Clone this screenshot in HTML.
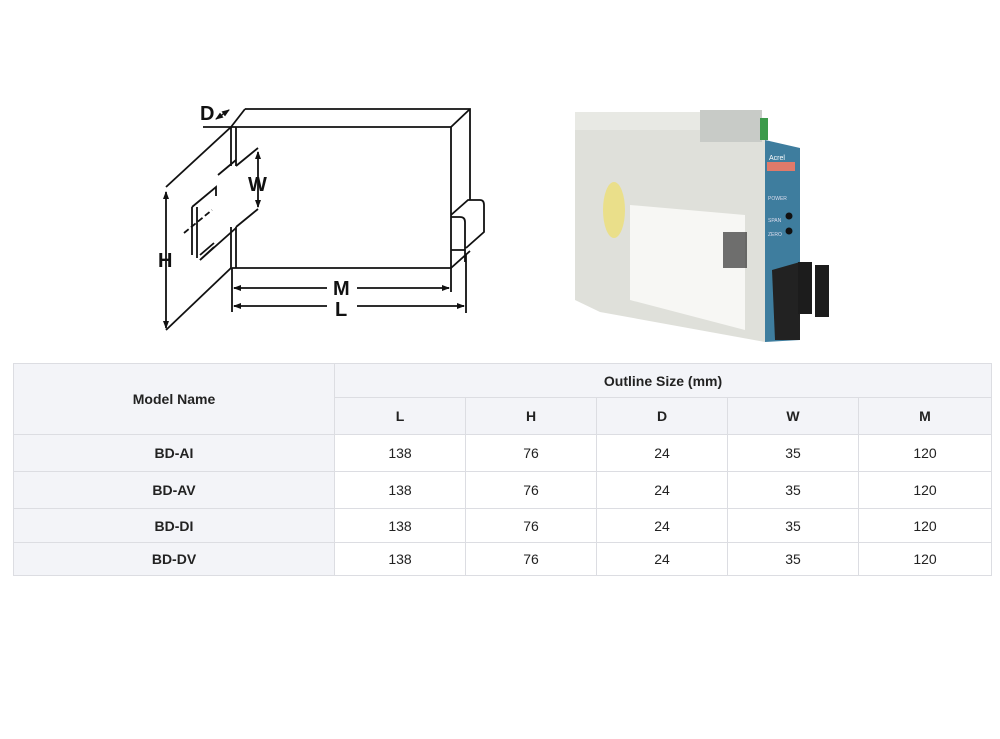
<!DOCTYPE html>
<html><head><meta charset="utf-8"><style>
html,body{margin:0;padding:0;background:#fff;width:1000px;height:739px;overflow:hidden;font-family:"Liberation Sans",Arial,sans-serif;}
svg{position:absolute;left:0;top:0}
table{position:absolute;left:13px;top:363px;border-collapse:collapse;width:978px;font-size:14px;color:#222;table-layout:fixed}
td{border:1px solid #dcdde2;text-align:center;padding:0}
.g{background:#f3f4f8;font-weight:bold}
</style></head><body>
<svg width="1000" height="360" viewBox="0 0 1000 360">
<defs><marker id="a" markerWidth="8" markerHeight="8" refX="7" refY="4" orient="auto-start-reverse" markerUnits="userSpaceOnUse"><path d="M0,1 L8,4 L0,7 z" fill="#111"/></marker></defs>
<g stroke="#111" stroke-width="1.8" fill="none">
<path d="M203,127 H451 V268 H232"/>
<path d="M245,109 H470 V200"/>
<path d="M451,127 L470,109"/>
<path d="M231,127 L245,109"/>
<path d="M231,127 V166 M236,127 V166 M231,227 V268 M236,227 V268"/>
<path d="M231,127 L166,187"/>
<path d="M231,268 L166,330"/>
<path d="M236,166 L258,148 M236,227 L258,209"/>
<path d="M218,175 L236,160 M200,260 L236,228"/>
<path d="M192,207 V255 M197,207 V258 M192,207 L216,187 V196"/>
<path d="M184,233 L212,210" stroke-dasharray="6,3"/>
<path d="M200,255 L214,243 M200,260 L214,247"/>
<path d="M451,215 L468,200 H480 Q484,200 484,205 V232 L466,248 M451,217 H460 Q465,217 465,222 V262 M451,250 H465 M451,268 L470,251"/>
<path d="M166,192 V328" marker-start="url(#a)" marker-end="url(#a)"/>
<path d="M258,152 V207" marker-start="url(#a)" marker-end="url(#a)"/>
<path d="M216,119 L229,110" marker-start="url(#a)" marker-end="url(#a)" stroke-width="1.4"/>
<path d="M232,268 V312 M451,268 V292 M466,255 V313"/>
<path d="M234,288 H327 M357,288 H449" />
<path d="M234,288 H240" marker-start="url(#a)"/><path d="M443,288 H449" marker-end="url(#a)"/>
<path d="M234,306 H327 M357,306 H464"/>
<path d="M234,306 H240" marker-start="url(#a)"/><path d="M458,306 H464" marker-end="url(#a)"/>
</g>
<g font-family="Liberation Sans" font-weight="bold" font-size="20" fill="#111">
<text x="200" y="120">D</text><text x="248" y="191">W</text><text x="158" y="267">H</text>
<text x="333" y="295">M</text><text x="335" y="316">L</text>
</g>
<polygon points="575,112 700,112 765,118 765,342 600,312 575,300" fill="#dfe0da"/>
<polygon points="575,112 700,112 700,130 575,130" fill="#e8e9e4"/>
<rect x="700" y="110" width="62" height="32" fill="#c8cbc7"/>
<rect x="760" y="118" width="8" height="22" fill="#3c9a4a"/>
<polygon points="765,140 800,148 800,340 765,342" fill="#3e7d9e"/>
<rect x="767" y="162" width="28" height="9" fill="#e07a6a"/>
<text x="769" y="160" font-size="7" fill="#fff" font-family="Liberation Sans">Acrel</text>
<text x="768" y="200" font-size="5" fill="#dde" font-family="Liberation Sans">POWER</text>
<text x="768" y="222" font-size="5" fill="#dde" font-family="Liberation Sans">SPAN</text>
<text x="768" y="236" font-size="5" fill="#dde" font-family="Liberation Sans">ZERO</text>
<circle cx="789" cy="216" r="3.5" fill="#111"/><circle cx="789" cy="231" r="3.5" fill="#111"/>
<polygon points="630,205 745,215 745,330 630,300" fill="#f7f7f4"/>
<rect x="723" y="232" width="24" height="36" fill="#333" opacity=".7"/>
<ellipse cx="614" cy="210" rx="11" ry="28" fill="#eadf8a"/>
<polygon points="772,270 800,262 800,340 775,340" fill="#222"/>
<rect x="798" y="262" width="14" height="52" fill="#1c1c1c"/>
<rect x="815" y="265" width="14" height="52" fill="#1c1c1c"/>
</svg>
<table>
<colgroup><col style="width:321px"><col style="width:131px"><col style="width:131px"><col style="width:131px"><col style="width:131px"><col style="width:133px"></colgroup>
<tr style="height:34px"><td class="g" rowspan="2">Model Name</td><td class="g" colspan="5">Outline Size (mm)</td></tr>
<tr style="height:37px"><td class="g">L</td><td class="g">H</td><td class="g">D</td><td class="g">W</td><td class="g">M</td></tr>
<tr style="height:37px"><td class="g">BD-AI</td><td>138</td><td>76</td><td>24</td><td>35</td><td>120</td></tr>
<tr style="height:37px"><td class="g">BD-AV</td><td>138</td><td>76</td><td>24</td><td>35</td><td>120</td></tr>
<tr style="height:34px"><td class="g">BD-DI</td><td>138</td><td>76</td><td>24</td><td>35</td><td>120</td></tr>
<tr style="height:33px"><td class="g">BD-DV</td><td>138</td><td>76</td><td>24</td><td>35</td><td>120</td></tr>
</table>
</body></html>
